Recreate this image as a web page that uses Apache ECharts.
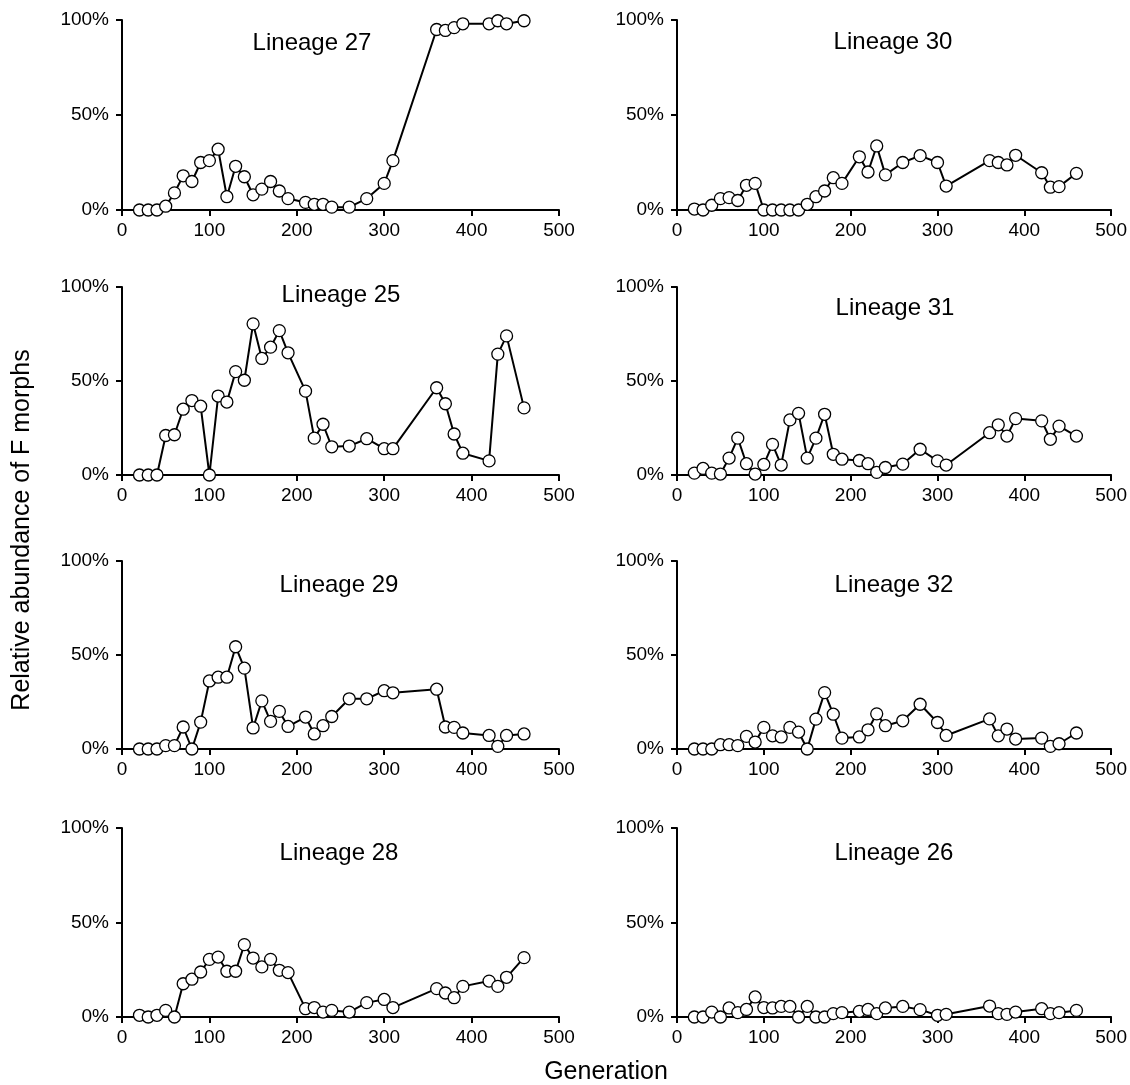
<!DOCTYPE html>
<html>
<head>
<meta charset="utf-8">
<script src="https://cdn.jsdelivr.net/npm/echarts@6/dist/echarts.min.js"></script>
<style>
html,body{margin:0;padding:0;background:#fff;}
#chart{width:1130px;height:1085px;}
</style>
</head>
<body>
<div id="chart"></div>
<script>
const generations = [20,30,40,50,60,70,80,90,100,110,120,130,140,150,160,170,180,190,210,220,230,240,260,280,300,310,360,370,380,390,420,430,440,460];

const lineage27 = [0,0,0,2,9,18,15,25,26,32,7,23,17.5,8,11,15,10,6,4,3,3,1.5,1.5,6,14,26,95,94.5,96,98,98,99.6,98,99.6];
const lineage30 = [0.5,0,2.5,6,6.5,5,13,14,0,0,0,0,0,3,7,10,17,14,28,20,33.7,18.5,25,28.6,25,12.6,26,25,23.7,28.8,19.6,12,12.3,19.3];
const lineage25 = [0,0,0,21,21.4,35,39.6,36.6,0,42,38.8,55,50.4,80.4,62,68,76.8,65,44.6,19.6,27,15,15.4,19.3,14,14,46.4,37.9,21.8,11.6,7.5,64.3,74,35.7];
const lineage31 = [1,3.5,1,0.5,9,19.6,6,0.5,5.6,16.3,5.3,29.3,32.8,9,19.6,32.3,11,8.4,7.7,6,1.4,4,5.8,13.7,7.5,5.3,22.5,26.7,20.7,30,28.8,19,26,20.7];
const lineage29 = [0,0,0,1.8,1.8,11.7,0,14.3,36.2,38.2,38.2,54.4,43,11.2,25.6,14.7,20,12,17,8,12.4,17.3,26.7,26.7,31,29.9,31.8,11.7,11.5,8.5,7.2,1.4,7.2,8];
const lineage32 = [0,0,0,2.3,2.3,1.8,6.7,3.7,11.5,7,6.4,11.5,9,0,15.9,30,18.5,5.8,6.4,10.2,18.7,12.4,15,23.8,14.1,7.2,16,7,10.6,5.3,5.8,1.4,2.8,8.5];
const lineage28 = [0.9,0,0.9,3.5,0,17.6,20,23.8,30.5,31.7,24.2,24.2,38.3,31.2,26.5,30.5,24.7,23.5,4.4,5,2.6,3.5,2.6,7.6,9.3,5,15,12.7,10.2,16.2,19,16.2,21,31.4];
const lineage26 = [0,0,2.6,0,4.8,2.3,4,10.6,5,4.8,5.6,5.6,0,5.6,0,0,1.8,2.3,3,4,1.8,4.8,5.6,3.9,0.9,1.4,5.8,1.8,1.4,2.6,4.4,1.8,2.3,3.5];

const panelNames = ["Lineage 27","Lineage 30","Lineage 25","Lineage 31","Lineage 29","Lineage 32","Lineage 28","Lineage 26"];
const panelData = [lineage27,lineage30,lineage25,lineage31,lineage29,lineage32,lineage28,lineage26];
const xTicks = [0,100,200,300,400,500];
const yTicks = [0,50,100];

// layout (pixels)
const colLeft = [122, 677];
const colWidth = 437;
const rowTop = [20, 287, 561, 828];
const rowHeight = [190, 188, 188, 189];
const titlePos = [[312,43],[893,42],[341,295],[895,308],[339,585],[894,585],[339,853],[894,853]];

const font = 'Liberation Sans, Arial, sans-serif';
const grids = [], xAxes = [], yAxes = [], series = [], graphics = [];

for (let i = 0; i < 8; i++) {
  const r = Math.floor(i / 2), c = i % 2;
  grids.push({left: colLeft[c], top: rowTop[r], width: colWidth, height: rowHeight[r], containLabel: false});
  xAxes.push({
    type: 'value', gridIndex: i, min: xTicks[0], max: xTicks[xTicks.length-1], interval: 100,
    axisLine: {show: true, onZero: false, lineStyle: {color: '#000', width: 2}},
    axisTick: {show: true, inside: false, length: 6, lineStyle: {color: '#000', width: 2}},
    axisLabel: {color: '#000', fontSize: 19, fontFamily: font, margin: 11},
    splitLine: {show: false}
  });
  yAxes.push({
    type: 'value', gridIndex: i, min: yTicks[0], max: yTicks[yTicks.length-1], interval: 50,
    axisLine: {show: true, lineStyle: {color: '#000', width: 2}},
    axisTick: {show: true, inside: false, length: 6, lineStyle: {color: '#000', width: 2}},
    axisLabel: {color: '#000', fontSize: 19, fontFamily: font, margin: 13, formatter: '{value}%'},
    splitLine: {show: false}
  });
  series.push({
    type: 'line', xAxisIndex: i, yAxisIndex: i,
    data: generations.map((g, k) => [g, panelData[i][k]]),
    symbol: 'circle', symbolSize: 12,
    lineStyle: {color: '#000', width: 2},
    itemStyle: {color: '#fff', borderColor: '#000', borderWidth: 1.3},
    emphasis: {disabled: true},
    animation: false, z: 3
  });
  graphics.push({
    type: 'text', x: titlePos[i][0], y: titlePos[i][1],
    style: {text: panelNames[i], fontSize: 24, fontFamily: font, fill: '#000', textAlign: 'center', textVerticalAlign: 'middle'}
  });
}

graphics.push({
  type: 'text', x: 22, y: 530, rotation: Math.PI / 2,
  style: {text: 'Relative abundance of F morphs', fontSize: 25, fontFamily: font, fill: '#000', textAlign: 'center', textVerticalAlign: 'middle'}
});
graphics.push({
  type: 'text', x: 606, y: 1072,
  style: {text: 'Generation', fontSize: 25, fontFamily: font, fill: '#000', textAlign: 'center', textVerticalAlign: 'middle'}
});

const chart = echarts.init(document.getElementById('chart'), null, {renderer: 'canvas'});
chart.setOption({
  animation: false,
  backgroundColor: '#fff',
  grid: grids, xAxis: xAxes, yAxis: yAxes, series: series, graphic: graphics
});
</script>
</body>
</html>
